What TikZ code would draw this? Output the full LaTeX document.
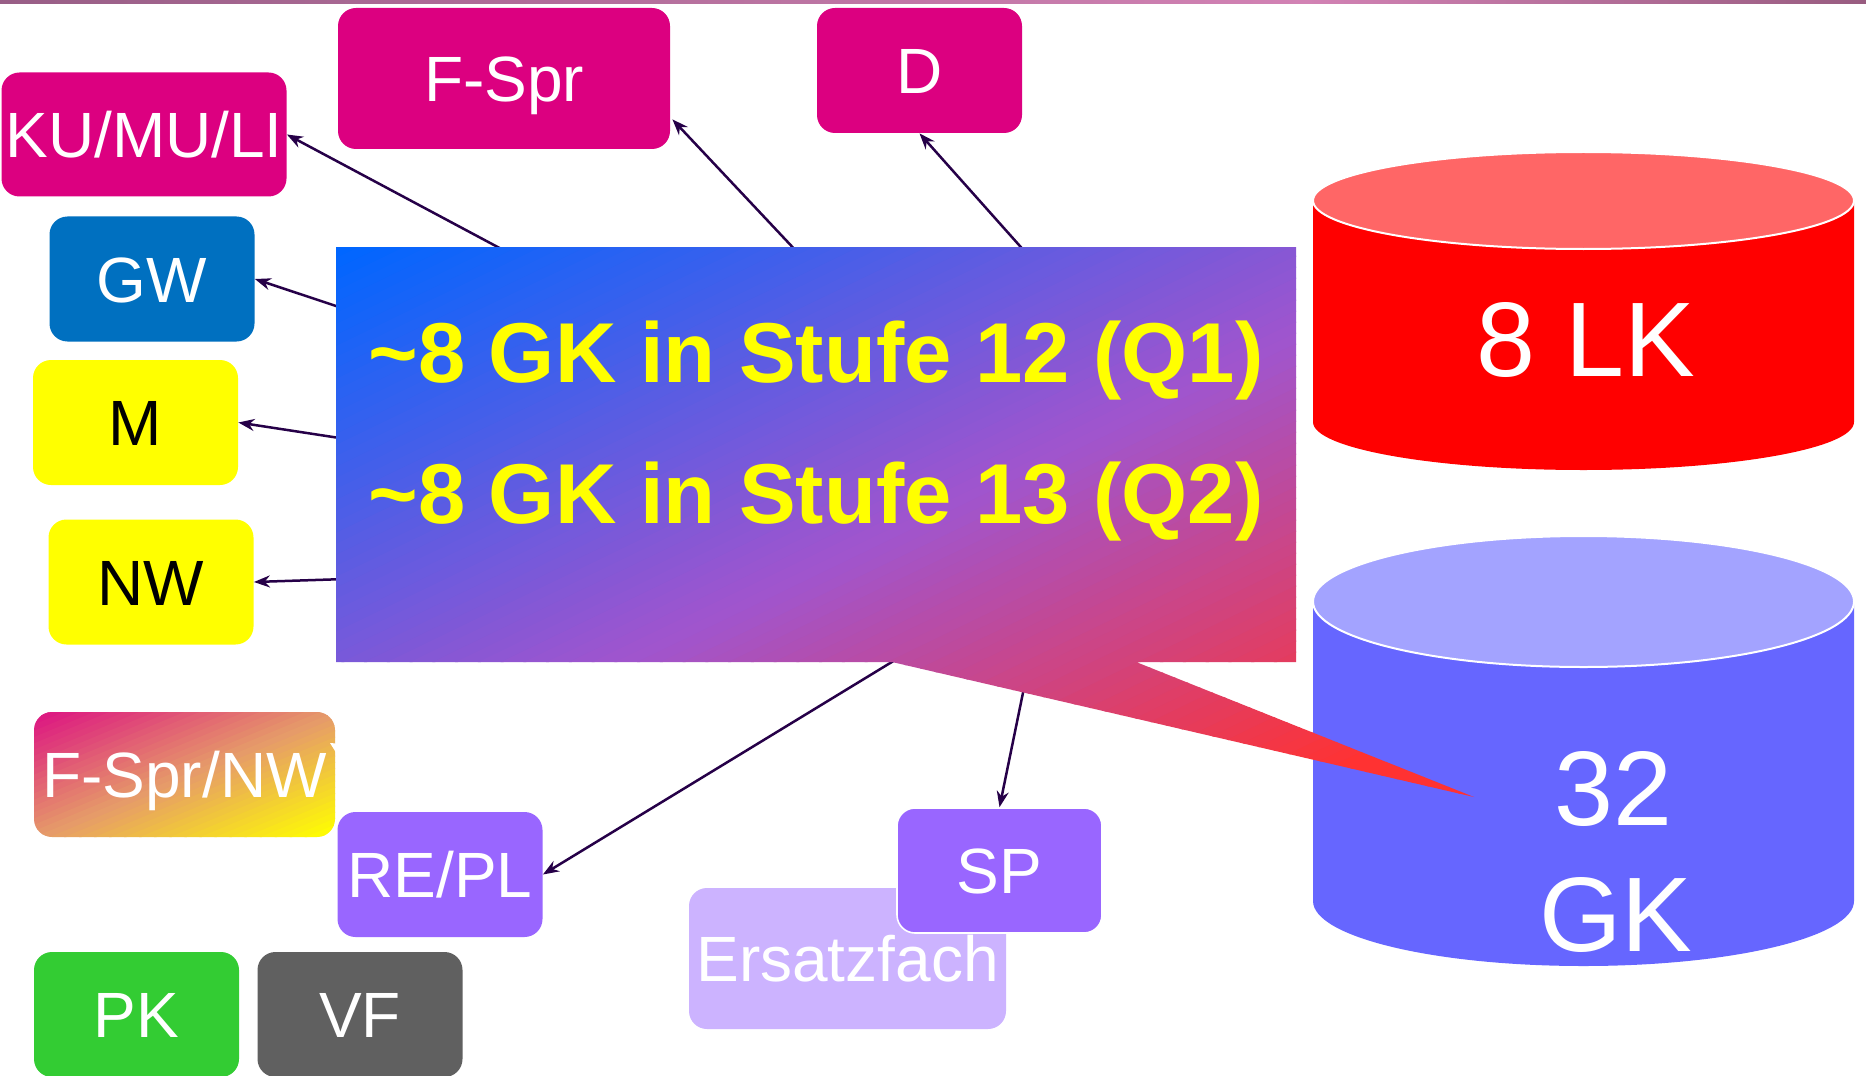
\documentclass[tikz,border=0pt]{standalone}
\usepackage{fontspec}
\setmainfont{Liberation Sans}
\usetikzlibrary{arrows.meta,calc}

\definecolor{cpink}{RGB}{220,0,128}
\definecolor{cgw}{RGB}{0,112,192}
\definecolor{cyel}{RGB}{255,255,0}
\definecolor{cviol}{RGB}{153,102,255}
\definecolor{cgreen}{RGB}{51,204,51}
\definecolor{cgray}{RGB}{96,96,96}
\definecolor{cersatz}{RGB}{204,179,255}
\definecolor{carrow}{RGB}{38,0,72}
\definecolor{lkbody}{RGB}{255,0,0}
\definecolor{lktop}{RGB}{255,102,102}
\definecolor{gkbody}{RGB}{102,102,255}
\definecolor{gktop}{RGB}{163,163,255}
\definecolor{cA}{RGB}{0,102,255}
\definecolor{cM}{RGB}{160,85,205}
\definecolor{cB}{RGB}{255,50,50}
\definecolor{fA}{RGB}{220,20,130}
\definecolor{fM}{RGB}{230,155,105}
\definecolor{fB}{RGB}{255,255,0}
\definecolor{tbA}{RGB}{152,94,134}
\definecolor{tbB}{RGB}{210,130,180}
\definecolor{tbC}{RGB}{152,92,128}

\pgfdeclarehorizontalshading{topbarsh}{100bp}{color(0bp)=(tbA); color(25bp)=(tbA); color(60bp)=(tbB); color(75bp)=(tbC); color(100bp)=(tbC)}

\begin{document}
\begin{tikzpicture}[x=0.5pt,y=-0.5pt,
  box/.style={rectangle, rounded corners=9pt, inner sep=0pt,
    minimum width=102.5pt, minimum height=62.5pt,
    text height=23pt, text depth=0pt,
    font=\fontsize{32}{38}\selectfont, text=white},
  arr/.style={draw=carrow, line width=1.25pt, -{Stealth[length=8pt,width=6pt]}},
  big/.style={font=\fontsize{53}{63}\selectfont, text=white, inner sep=0pt,
    text height=38pt, text depth=0pt},
  head/.style={font=\bfseries\fontsize{42.5}{52}\selectfont, text=cyel, inner sep=0pt,
    text height=31pt, text depth=0pt}]

\useasboundingbox (0,0) rectangle (1866,1075);
\fill[white] (0,0) rectangle (1866,1075);
\shade[shading=topbarsh] (0,0) rectangle (1866,3.5);

% boxes
\node[box, fill=cpink, minimum width=142.5pt, minimum height=62pt] (ku) at (144,134.5) {KU/MU/LI};
\node[box, fill=cpink, minimum width=166pt, minimum height=70.5pt] (fspr) at (504,78.5) {F-Spr};
\node[box, fill=cpink] (d) at (919.5,70.5) {D};
\node[box, fill=cgw] (gw) at (152,279) {GW};
\node[box, fill=cyel, text=black] (m) at (135.5,422.5) {M};
\node[box, fill=cyel, text=black] (nw) at (151,582) {NW};

% gradient box F-Spr/NW
\coordinate (fo) at (34,712);
\begin{scope}
  \clip[rounded corners=9pt] (34,712) rectangle (335,837);
  \foreach \i in {0,...,39}{
    \ifnum\i<20
      \pgfmathtruncatemacro{\gp}{\i*5.1}\colorlet{stripc}{fM!\gp!fA}
    \else
      \pgfmathtruncatemacro{\gp}{(\i-20)*5.3}\colorlet{stripc}{fB!\gp!fM}
    \fi
    \fill[stripc, shift={(fo)}, rotate=-67.4] ({\i*5.78},-500) rectangle ({\i*5.78+6.5},500);
  }
\end{scope}
\node[box, minimum width=150.5pt] (fsnw) at (184.5,774.5) {F-Spr/NW};

\node[box, fill=cviol] (repl) at (440,874.5) {RE/PL};
\node[box, fill=cgreen] (pk) at (136.5,1014.5) {PK};
\node[box, fill=cgray] (vf) at (360,1014.5) {VF};
\node[box, fill=cersatz, minimum width=158.5pt, minimum height=70.5pt] (ersatz) at (847.5,958.5) {Ersatzfach};
\node[box, fill=cviol, draw=white, line width=0.8pt] (sp) at (999.5,870.5) {SP};

% small white arrow tip at F-Spr/NW
\coordinate (w1) at (345,752);
\coordinate (w2) at (330,743);
\draw[white, line width=1pt, -{Stealth[length=5pt,width=5pt]}] (w1) -- (w2);

% connector start points (hidden under the callout)
\coordinate (s-ku) at (507,252);
\coordinate (s-fspr) at (799,254);
\coordinate (s-d) at (1027,254);
\coordinate (s-gw) at (345,309);
\coordinate (s-m) at (346,439);
\coordinate (s-nw) at (346,579);
\coordinate (s-repl) at (900,657);
\coordinate (s-sp) at (1026,678);

\draw[arr] (s-ku) -- (ku.east);
\draw[arr] (s-fspr) -- ($(fspr.south east)+(2,-30)$);
\draw[arr] (s-d) -- (d.south);
\draw[arr] (s-gw) -- (gw.east);
\draw[arr] (s-m) -- (m.east);
\draw[arr] (s-nw) -- (nw.east);
\draw[arr] (s-repl) -- (repl.east);
\draw[arr] (s-sp) -- (sp.north);

% cylinders
\fill[lkbody] (1313,200.5) -- (1313,422) arc[start angle=180, end angle=360, x radius=135.25pt, y radius=24pt] -- (1854,200.5) -- cycle;
\filldraw[fill=lktop, draw=white, line width=1pt] (1583.5,200.5) ellipse [x radius=135.25pt, y radius=24.25pt];

\fill[gkbody] (1313,601.5) -- (1313,901) arc[start angle=180, end angle=360, x radius=135.25pt, y radius=32.5pt] -- (1854,601.5) -- cycle;
\filldraw[fill=gktop, draw=white, line width=1pt] (1583.5,601.5) ellipse [x radius=135.25pt, y radius=32.75pt];

% callout with diagonal gradient
\coordinate (co) at (336,247);
\begin{scope}
  \clip (336,247) -- (1296,247) -- (1296,662) -- (1136,662) -- (1474,797) -- (892,662) -- (336,662) -- cycle;
  \foreach \i in {0,...,99}{
    \ifnum\i<50
      \pgfmathtruncatemacro{\gp}{\i*2.04}\colorlet{stripc}{cM!\gp!cA}
    \else
      \pgfmathtruncatemacro{\gp}{min(100,(\i-50)*2.45)}\colorlet{stripc}{cB!\gp!cM}
    \fi
    \fill[stripc, shift={(co)}, rotate=-64.2] ({\i*9.9},-1500) rectangle ({\i*9.9+11},1500);
  }
\end{scope}

\node[head] (q1) at (816,351) {\textasciitilde 8 GK in Stufe 12 (Q1)};
\node[head] (q2) at (816,492) {\textasciitilde 8 GK in Stufe 13 (Q2)};

\node[big] (lk) at (1586,338) {8 LK};
\node[big] (gk1) at (1613,787.5) {32};
\node[big] (gk2) at (1616,913) {GK};
\end{tikzpicture}
\end{document}
